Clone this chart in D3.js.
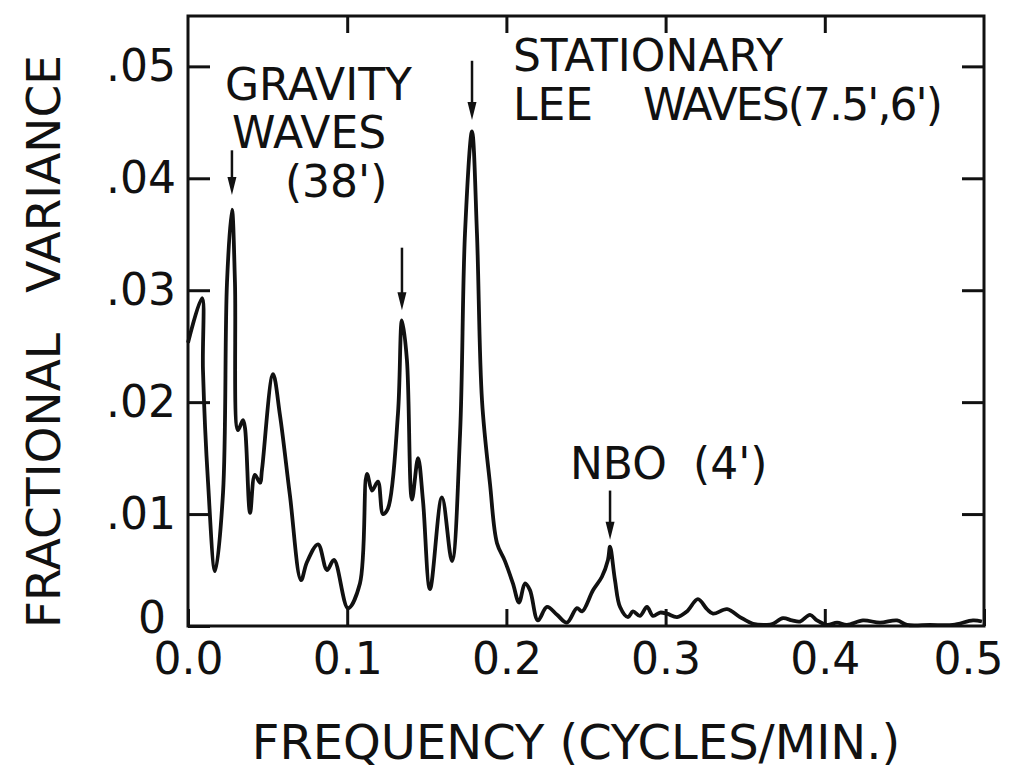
<!DOCTYPE html>
<html>
<head>
<meta charset="utf-8">
<script src="https://cdn.jsdelivr.net/npm/d3@7"></script>
<style>
  body { margin: 0; background: #fff; }
  text { fill: #111; }
</style>
</head>
<body>
<div id="my_dataviz"></div>
<script>
// spectrum: frequency (cycles/min) and fractional variance
var freq = [0, 0.0088, 0.0094, 0.0126, 0.017, 0.022, 0.0245, 0.0276, 0.0295, 0.0314,
  0.0345, 0.0358, 0.039, 0.042, 0.0452, 0.0465, 0.0534, 0.0578, 0.064, 0.071,
  0.0747, 0.0817, 0.0873, 0.0917, 0.1005, 0.108, 0.1124, 0.1156, 0.1193, 0.1225,
  0.1256, 0.1319, 0.1344, 0.1375, 0.1407, 0.1445, 0.1476, 0.152, 0.1595, 0.1658,
  0.1709, 0.174, 0.1784, 0.1815, 0.1847, 0.1897, 0.1941, 0.1991, 0.2041, 0.2079,
  0.2117, 0.2148, 0.2198, 0.2255, 0.2318, 0.238, 0.2443, 0.2475, 0.2544, 0.26,
  0.2638, 0.2651, 0.2682, 0.2714, 0.2764, 0.2795, 0.2839, 0.2883, 0.2921, 0.2965,
  0.3009, 0.3072, 0.3134, 0.3203, 0.326, 0.3298, 0.3386, 0.3467, 0.3549, 0.3637,
  0.3675, 0.3737, 0.3794, 0.3844, 0.3907, 0.3951, 0.4014, 0.4077, 0.4139, 0.424,
  0.4347, 0.4454, 0.4516, 0.4661, 0.4805, 0.4931, 0.4987];
var variance = [0.0253, 0.0293, 0.0229, 0.0128, 0.0049, 0.0119, 0.0307, 0.0372, 0.0307, 0.0175,
  0.0184, 0.0177, 0.0101, 0.0135, 0.0128, 0.014, 0.0225, 0.0188, 0.0117, 0.0041,
  0.0057, 0.0073, 0.005, 0.0059, 0.0016, 0.0038, 0.0136, 0.0121, 0.0129, 0.01,
  0.0105, 0.019, 0.0273, 0.0238, 0.0113, 0.015, 0.0112, 0.0033, 0.0115, 0.0058,
  0.0172, 0.0351, 0.0442, 0.0351, 0.0201, 0.0127, 0.0074, 0.0058, 0.0038, 0.0021,
  0.0038, 0.0032, 0.0005, 0.0017, 0.001, 0.0003, 0.0016, 0.0013, 0.0032, 0.0044,
  0.0059, 0.0071, 0.0041, 0.0017, 0.0008, 0.0013, 0.0009, 0.0017, 0.0009, 0.0012,
  0.0011, 0.0008, 0.0013, 0.0024, 0.0015, 0.0011, 0.0015, 0.0008, 0.0002, 0.0001,
  0.0002, 0.0007, 0.0005, 0.0004, 0.001, 0.0005, 0.0001, 0.0003, 0.0001, 0.0005,
  0.0003, 0.0005, 0.0001, 0.0001, 0.0001, 0.0005, 0.0004];

// tick values and their printed labels
var xTicks = [0, 0.1, 0.2, 0.3, 0.4, 0.5];
var xTickLabels = ["0.0", "0.1", "0.2", "0.3", "0.4", "0.5"];
var yTicks = [0, 0.01, 0.02, 0.03, 0.04, 0.05];
var yTickLabels = ["0", ".01", ".02", ".03", ".04", ".05"];

// arrows pointing at the peaks: frequency, tail value, tip value
var arrowFreq = [0.0276, 0.1344, 0.1784, 0.2651];
var arrowFrom = [0.0425, 0.0338, 0.0505, 0.0121];
var arrowTo = [0.0385, 0.0282, 0.0452, 0.0077];

var xTitle = "FREQUENCY (CYCLES/MIN.)";
var yTitle = ["FRACTIONAL", "VARIANCE"];

var data = freq.map(function(f, i) { return {x: f, y: variance[i]}; });

// set the dimensions and margins of the graph
var margin = {top: 16, right: 37, bottom: 147, left: 188},
    width = 1021 - margin.left - margin.right,
    height = 773 - margin.top - margin.bottom;

var font = "DejaVu Sans, Liberation Sans, sans-serif";

var svg = d3.select("#my_dataviz")
  .append("svg")
    .attr("width", width + margin.left + margin.right)
    .attr("height", height + margin.top + margin.bottom)
  .append("g")
    .attr("transform", "translate(" + margin.left + "," + margin.top + ")");

var x = d3.scaleLinear()
  .domain([0, 0.5])
  .range([0, width]);

var y = d3.scaleLinear()
  .domain([0, 0.0545])
  .range([height, 0]);

// bottom axis with labels, ticks pointing up
var xAxis = svg.append("g")
  .attr("transform", "translate(0," + height + ")")
  .call(d3.axisBottom(x).tickValues(xTicks)
    .tickFormat(function(d, i) { return xTickLabels[i]; })
    .tickSize(-17).tickPadding(17));

// left axis with labels, ticks pointing right
var yAxis = svg.append("g")
  .call(d3.axisLeft(y).tickValues(yTicks)
    .tickFormat(function(d, i) { return yTickLabels[i]; })
    .tickSize(-22).tickPadding(12));

// top and right ticks, no labels
var topAxis = svg.append("g")
  .call(d3.axisTop(x).tickValues(xTicks.slice(1, 5)).tickFormat("").tickSize(-17));
var rightAxis = svg.append("g")
  .attr("transform", "translate(" + width + ",0)")
  .call(d3.axisRight(y).tickValues(yTicks.slice(1)).tickFormat("").tickSize(-22));

[xAxis, yAxis, topAxis, rightAxis].forEach(function(g) {
  g.select(".domain").remove();
  g.selectAll(".tick line").attr("stroke", "#111").attr("stroke-width", 3);
  g.selectAll(".tick text")
    .attr("fill", "#111")
    .style("font-family", font)
    .style("font-size", "44px");
});

// the "0" sits a little lower-left of the others, the last x label a bit left
yAxis.selectAll(".tick text").filter(function(d) { return d === 0; })
  .attr("dy", "0.15em").attr("x", -22);
xAxis.selectAll(".tick text").filter(function(d) { return d === 0.5; })
  .attr("dx", -16);

// frame
svg.append("rect")
  .attr("x", 0).attr("y", 0)
  .attr("width", width).attr("height", height)
  .attr("fill", "none")
  .attr("stroke", "#111")
  .attr("stroke-width", 3);

// the spectrum
svg.append("path")
  .datum(data)
  .attr("fill", "none")
  .attr("stroke", "#111")
  .attr("stroke-width", 3.8)
  .attr("stroke-linejoin", "round")
  .attr("d", d3.line()
    .curve(d3.curveCatmullRom.alpha(0.5))
    .x(function(d) { return x(d.x); })
    .y(function(d) { return y(d.y); }));

// arrows
arrowFreq.forEach(function(f, i) {
  var ax = x(f), y0 = y(arrowFrom[i]), y1 = y(arrowTo[i]);
  svg.append("line")
    .attr("x1", ax).attr("x2", ax)
    .attr("y1", y0).attr("y2", y1 - 10)
    .attr("stroke", "#111")
    .attr("stroke-width", 2.5);
  svg.append("path")
    .attr("d", "M" + (ax - 4.5) + "," + (y1 - 18) + "L" + (ax + 4.5) + "," + (y1 - 18) + "L" + ax + "," + y1 + "Z")
    .attr("fill", "#111");
});

// annotations
function label(txt, fx, fy) {
  return svg.append("text")
    .attr("x", x(fx))
    .attr("y", y(fy))
    .style("font-family", font)
    .style("font-size", "44px")
    .text(txt);
}
label("GRAVITY", 0.0232, 0.047);
label("WAVES", 0.0276, 0.0427);
label("(38')", 0.0609, 0.0383);
label("STATIONARY", 0.2041, 0.0496);
label("LEE", 0.2041, 0.0452);
label("WAVES(7.5',6')", 0.2858, 0.0452)
  .attr("textLength", 300)
  .attr("lengthAdjust", "spacing");
label("NBO", 0.2399, 0.0131);
label("(4')", 0.3172, 0.0131);

// text label for the x axis
svg.append("text")
  .attr("x", width / 2 - 10)
  .attr("y", height + 133)
  .attr("text-anchor", "middle")
  .style("font-family", font)
  .style("font-size", "48px")
  .text(xTitle);

// text label for the y axis
svg.append("text")
  .attr("transform", "rotate(-90)")
  .attr("x", -(height + 2))
  .attr("y", -128)
  .style("font-family", font)
  .style("font-size", "47px")
  .text(yTitle[0]);
svg.append("text")
  .attr("transform", "rotate(-90)")
  .attr("x", -39)
  .attr("y", -128)
  .attr("text-anchor", "end")
  .style("font-family", font)
  .style("font-size", "47px")
  .text(yTitle[1]);
</script>
</body>
</html>
